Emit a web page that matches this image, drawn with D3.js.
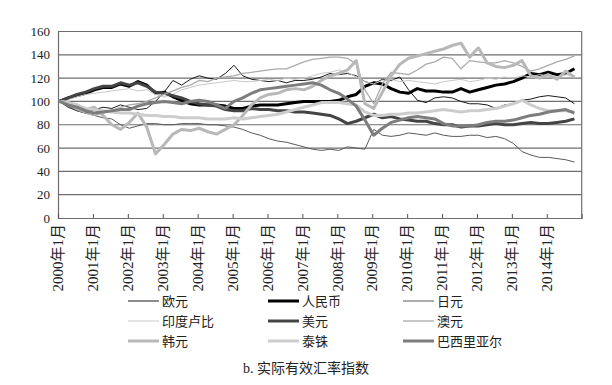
<!DOCTYPE html>
<html>
<head>
<meta charset="utf-8">
<script src="https://cdn.jsdelivr.net/npm/d3@7/dist/d3.min.js"></script>
<style>
body{margin:0;background:#fff}
svg{display:block}
text{font-family:"Liberation Serif","Noto Sans CJK SC",serif;fill:#222}
</style>
</head>
<body>
<svg width="612" height="385"></svg>
<script>
// quarterly readings, month index counted from 2000年1月
var months = d3.range(0, 180, 3);
var yearLabels = d3.range(2000, 2015).map(function(y){ return y + "年1月"; });
var yTicks = [0, 20, 40, 60, 80, 100, 120, 140, 160];

var euro = [100,95,92,90, 93,95,94,97, 95,93,94,100, 108,118,114,119, 122,120,119,124,
            131,122,119,118, 117,118,116,118, 118,119,121,124, 123,124,122,117, 115,119,118,121,
            110,101,99,103, 104,103,100,98, 98,97,94,97, 98,101,102,104, 105,104,103,98];
var rmb  = [100,103,105,107, 110,112,112,115, 113,117,114,107, 108,104,101,98, 97,97,97,96,
            94,94,96,97, 97,97,98,99, 100,100,100,100, 101,104,106,113, 116,115,111,108,
            107,111,109,109, 108,108,111,108, 110,112,114,115, 117,120,124,123, 125,123,124,128];
var yen  = [100,96,92,90, 88,86,85,80, 77,79,81,81, 80,80,81,81, 81,80,80,79,
            78,76,73,71, 68,66,65,63, 61,59,58,59, 58,61,60,59, 76,71,70,71,
            73,72,71,73, 71,70,70,71, 71,69,70,68, 64,57,54,52, 52,51,50,48];
var inr  = [100,102,104,106, 107,108,109,110, 111,109,110,106, 104,106,110,112, 114,115,116,117,
            118,117,117,118, 119,118,120,119, 120,122,124,125, 127,125,121,117, 115,118,119,117,
            118,117,116,115, 117,118,119,117, 118,120,119,121, 120,122,121,123, 122,121,123,122];
var usd  = [100,103,106,108, 111,113,113,116, 114,116,113,108, 107,105,103,100, 98,97,96,93,
            92,92,94,93, 93,92,92,91, 91,90,89,88, 85,81,83,86, 89,86,87,85,
            84,83,83,81, 80,80,78,79, 79,80,81,80, 80,81,82,81, 81,82,83,85];
var aud  = [100,97,93,90, 88,90,92,95, 97,98,100,103, 106,109,112,114, 118,117,120,121,
            122,124,125,126, 127,128,128,131, 134,136,137,138, 138,137,132,110, 98,115,125,124,
            123,127,132,134, 138,137,128,135, 134,133,133,135, 133,130,126,128, 131,134,136,139];
var krw  = [100,99,97,93, 95,88,80,76, 82,90,78,55, 63,72,76,75, 77,74,72,76,
            80,88,97,103, 106,107,110,111, 110,113,118,122, 124,127,135,98, 94,108,122,132,
            137,139,141,143, 145,148,150,138, 146,133,130,129, 131,135,122,120, 123,119,126,121];
var thb  = [100,99,97,94, 93,92,91,90, 90,89,88,88, 87,87,86,86, 86,85,85,85,
            86,85,86,87, 88,89,91,93, 95,97,99,99, 99,98,97,91, 88,88,89,89,
            90,90,91,92, 93,92,91,92, 92,93,94,96, 98,101,97,94, 92,92,92,91];
var brl  = [100,97,95,92, 90,91,92,93, 93,96,98,99, 100,99,98,100, 101,100,97,94,
            100,103,107,110, 111,112,113,114, 115,116,114,110, 107,102,96,84, 71,77,82,84,
            86,87,86,85, 81,79,79,79, 80,82,83,83, 84,86,88,89, 91,92,93,90];

var seriesNames = ["欧元", "人民币", "日元", "印度卢比", "美元", "澳元", "韩元", "泰铢", "巴西里亚尔"];
var seriesValues = [euro, rmb, yen, inr, usd, aud, krw, thb, brl];
var seriesColors = ["#1a1a1a", "#000000", "#5a5a5a", "#c8c8c8", "#444444", "#ababab", "#b8b8b8", "#cdcdcd", "#7d7d7d"];
var seriesWidths = [1, 3, 1, 1, 3, 1.3, 3, 3, 3];

var margin = {left: 58, top: 31.5, right: 581.7, bottom: 218};

var svg = d3.select("svg");

var x = d3.scaleLinear().domain([0, 180]).range([margin.left, margin.right]);
var y = d3.scaleLinear().domain([0, 160]).range([margin.bottom, margin.top]);

// grid lines
svg.append("g").selectAll("line.grid")
    .data(yTicks.filter(function(d){ return d > 0; }))
    .enter().append("line")
    .attr("class", "grid")
    .attr("x1", margin.left).attr("x2", margin.right)
    .attr("y1", function(d){ return y(d); }).attr("y2", function(d){ return y(d); })
    .attr("stroke", "#6e6e6e").attr("stroke-width", 1.2);

// frame right side
svg.append("line")
    .attr("x1", margin.right).attr("x2", margin.right)
    .attr("y1", y(160)).attr("y2", y(0))
    .attr("stroke", "#6e6e6e").attr("stroke-width", 1.2);

// y axis
var yAxis = svg.append("g")
    .attr("transform", "translate(" + margin.left + ",0)")
    .call(d3.axisLeft(y).tickValues(yTicks).tickSize(0).tickPadding(8));
yAxis.select(".domain").attr("stroke", "#6e6e6e").attr("stroke-width", 1.2);
yAxis.selectAll("text").style("font-size", "13px").attr("fill", "#222")
    .style("font-family", "'Liberation Serif', serif");

// x axis, ticks every 12 months pointing up
var xAxis = svg.append("g")
    .attr("transform", "translate(0," + margin.bottom + ")")
    .call(d3.axisBottom(x).tickValues(d3.range(0, 180, 12)).tickSize(-4).tickFormat(""));
xAxis.select(".domain").attr("stroke", "#6e6e6e").attr("stroke-width", 1.2);
xAxis.selectAll(".tick line").attr("stroke", "#555");

svg.append("g").selectAll("text.xlab")
    .data(yearLabels)
    .enter().append("text")
    .attr("class", "xlab")
    .attr("transform", function(d, i){ return "translate(" + x(i * 12) + "," + (margin.bottom + 6) + ") rotate(-90)"; })
    .attr("text-anchor", "end")
    .attr("dy", "0.35em")
    .style("font-size", "15px")
    .text(function(d){ return d; });

// series lines
var line = d3.line()
    .x(function(d, i){ return x(months[i] + 0.5); })
    .y(function(d){ return y(d); });

svg.append("g").selectAll("path.series")
    .data(seriesValues)
    .enter().append("path")
    .attr("class", "series")
    .attr("d", function(d){ return line(d); })
    .attr("fill", "none")
    .attr("stroke", function(d, i){ return seriesColors[i]; })
    .attr("stroke-width", function(d, i){ return seriesWidths[i]; })
    .attr("stroke-linejoin", "round");

// legend, 3 columns
var legendCols = [128, 268, 403];
var legendRows = [301, 321, 341];
var gLegend = svg.append("g").selectAll("g.legend")
    .data(seriesNames)
    .enter().append("g")
    .attr("class", "legend")
    .attr("transform", function(d, i){ return "translate(" + legendCols[i % 3] + "," + legendRows[Math.floor(i / 3)] + ")"; });

gLegend.append("line")
    .attr("x1", 0).attr("x2", 31)
    .attr("stroke", function(d, i){ return seriesColors[i]; })
    .attr("stroke-width", function(d, i){ return seriesWidths[i]; });

gLegend.append("text")
    .attr("x", 34)
    .attr("dy", "0.35em")
    .style("font-size", "13px")
    .text(function(d){ return d; });

svg.append("text")
    .attr("x", 306).attr("y", 368)
    .attr("text-anchor", "middle")
    .attr("dy", "0.35em")
    .style("font-size", "14px")
    .text("b. 实际有效汇率指数");
</script>
</body>
</html>
